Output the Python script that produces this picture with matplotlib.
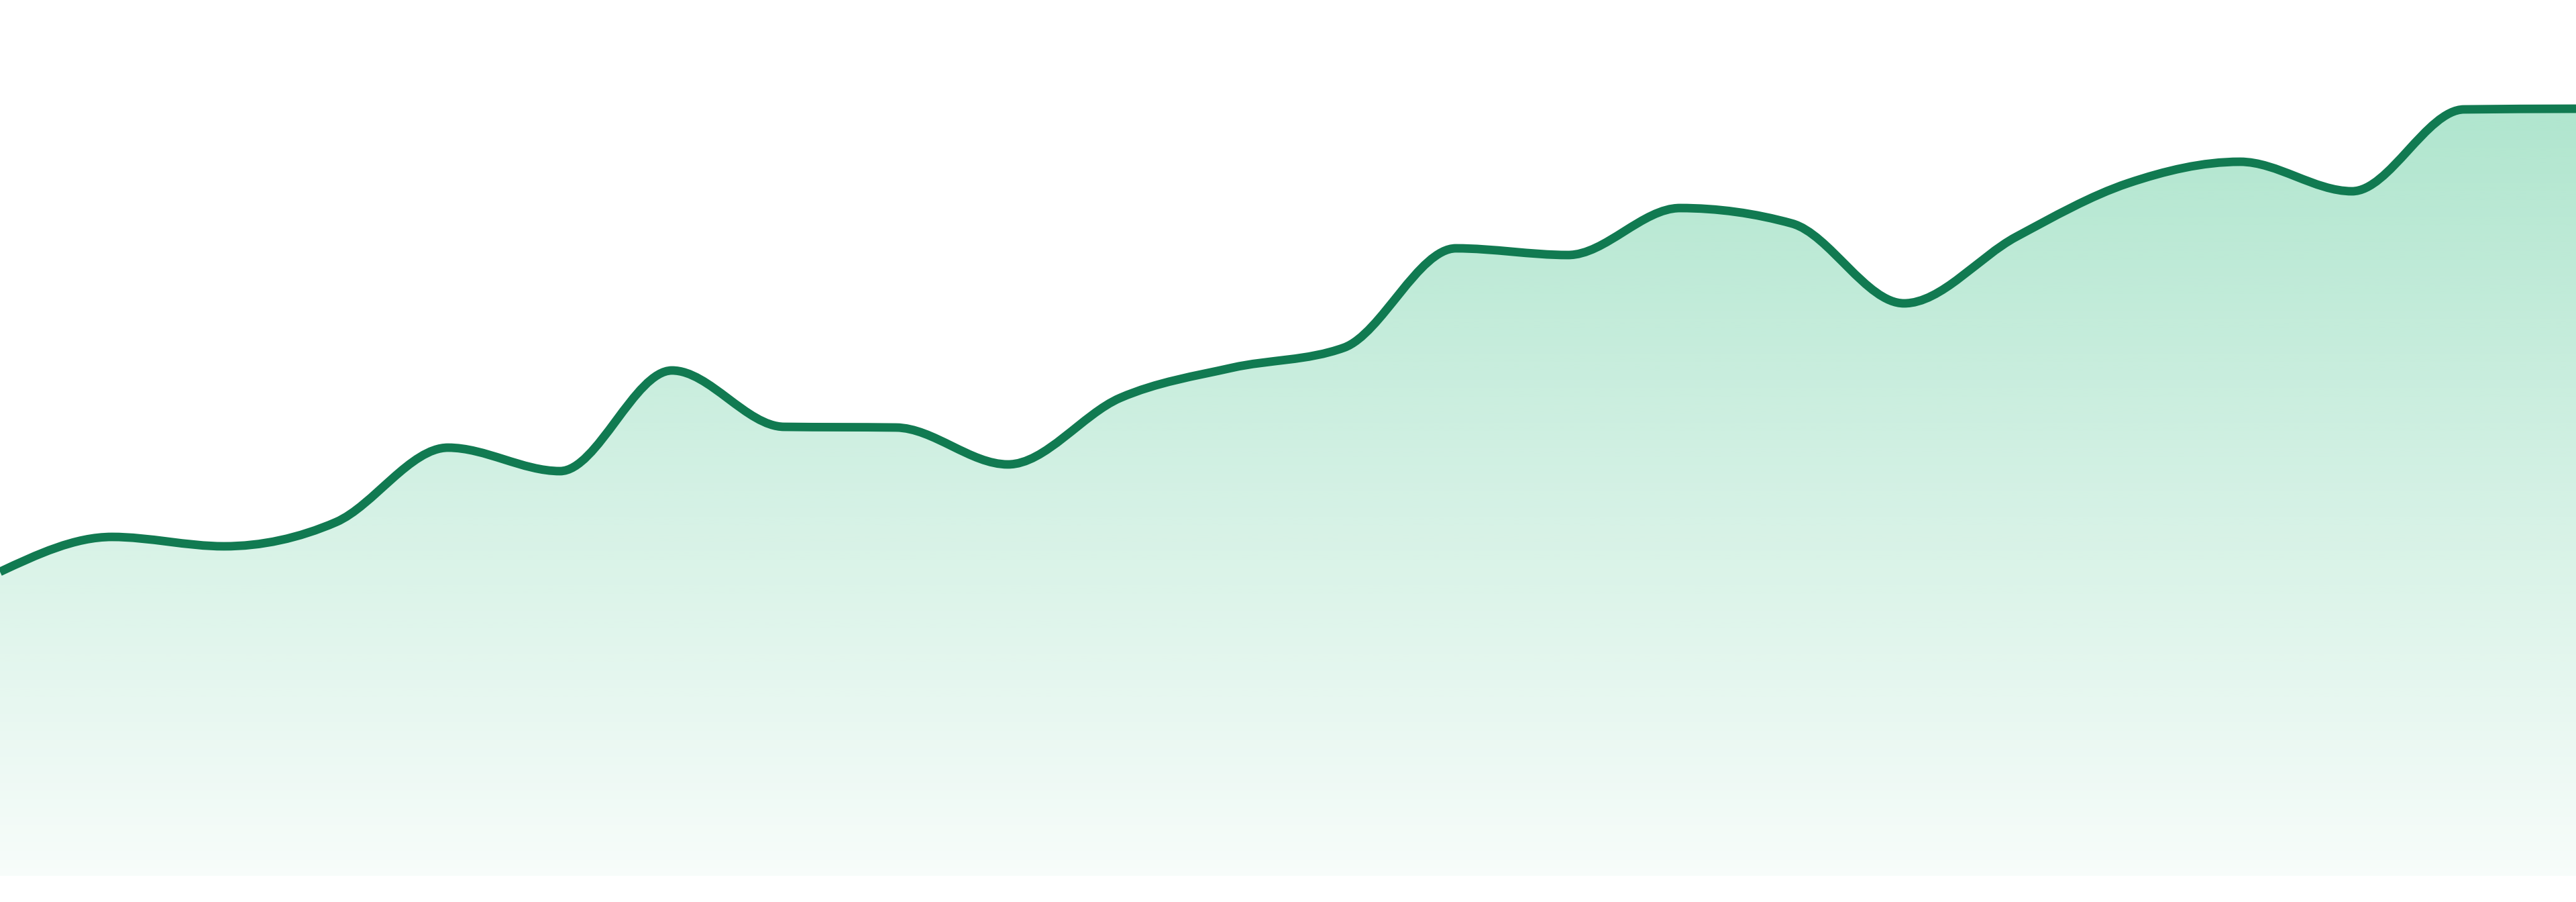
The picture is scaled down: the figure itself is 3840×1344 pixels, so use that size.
import numpy as np
import matplotlib
matplotlib.use("Agg")
import matplotlib.pyplot as plt
from matplotlib.path import Path
from matplotlib.patches import PathPatch

# ---- data ----
periods = list(range(24))
values = [45.3, 50.5, 49.1, 52.7, 63.8, 60.3, 75.3, 66.9, 66.8, 61.3, 71.2, 75.7,
          78.7, 93.5, 92.5, 99.5, 97.2, 85.3, 95.2, 103.2, 106.4, 102.0, 114.2, 114.3]
y_min, y_max = 0.0, 130.5

line_color = "#117a51"
fill_rgb = (52 / 255, 190 / 255, 130 / 255)
alpha_top, alpha_bottom = 0.44, 0.04


def monotone_tangents(x, y):
    x = np.asarray(x, float)
    y = np.asarray(y, float)
    n = len(x)
    t = np.zeros(n)
    for i in range(1, n - 1):
        h0 = x[i] - x[i - 1]
        h1 = x[i + 1] - x[i]
        s0 = (y[i] - y[i - 1]) / h0
        s1 = (y[i + 1] - y[i]) / h1
        p = (s0 * h1 + s1 * h0) / (h0 + h1)
        t[i] = (np.sign(s0) + np.sign(s1)) * min(abs(s0), abs(s1), 0.5 * abs(p))
    h = x[1] - x[0]
    t[0] = (3 * (y[1] - y[0]) / h - t[1]) / 2
    h = x[-1] - x[-2]
    t[-1] = (3 * (y[-1] - y[-2]) / h - t[-2]) / 2
    return t


def monotone_path_vertices(x, y):
    t = monotone_tangents(x, y)
    verts = [(x[0], y[0])]
    codes = [Path.MOVETO]
    for i in range(len(x) - 1):
        dx = (x[i + 1] - x[i]) / 3
        verts += [(x[i] + dx, y[i] + dx * t[i]),
                  (x[i + 1] - dx, y[i + 1] - dx * t[i + 1]),
                  (x[i + 1], y[i + 1])]
        codes += [Path.CURVE4] * 3
    return verts, codes


W, H, DPI = 3840, 1344, 100
fig = plt.figure(figsize=(W / DPI, H / DPI), dpi=DPI)
fig.patch.set_facecolor("white")
ax = fig.add_axes([0, 39 / H, 1, 1305 / H])
ax.set_xlim(periods[0], periods[-1])
ax.set_ylim(y_min, y_max)
ax.axis("off")

verts, codes = monotone_path_vertices(periods, values)

# area path for the gradient clip
area_verts = verts + [(periods[-1], y_min), (periods[0], y_min), (periods[0], values[0])]
area_codes = codes + [Path.LINETO, Path.LINETO, Path.CLOSEPOLY]
area_patch = PathPatch(Path(area_verts, area_codes), facecolor="none", edgecolor="none",
                       transform=ax.transData)
ax.add_patch(area_patch)

ny = 512
alphas = np.linspace(alpha_top, alpha_bottom, ny)
grad = np.zeros((ny, 2, 4))
grad[..., 0] = fill_rgb[0]
grad[..., 1] = fill_rgb[1]
grad[..., 2] = fill_rgb[2]
grad[..., 3] = alphas[:, None]
img = ax.imshow(grad, extent=(periods[0], periods[-1], y_min, y_max), aspect="auto",
                origin="upper", interpolation="bilinear", zorder=1)
img.set_clip_path(area_patch)

line_patch = PathPatch(Path(verts, codes), facecolor="none", edgecolor=line_color,
                       linewidth=9.2, capstyle="butt", joinstyle="round", zorder=3)
ax.add_patch(line_patch)

fig.savefig("out.png", dpi=DPI, facecolor="white")
